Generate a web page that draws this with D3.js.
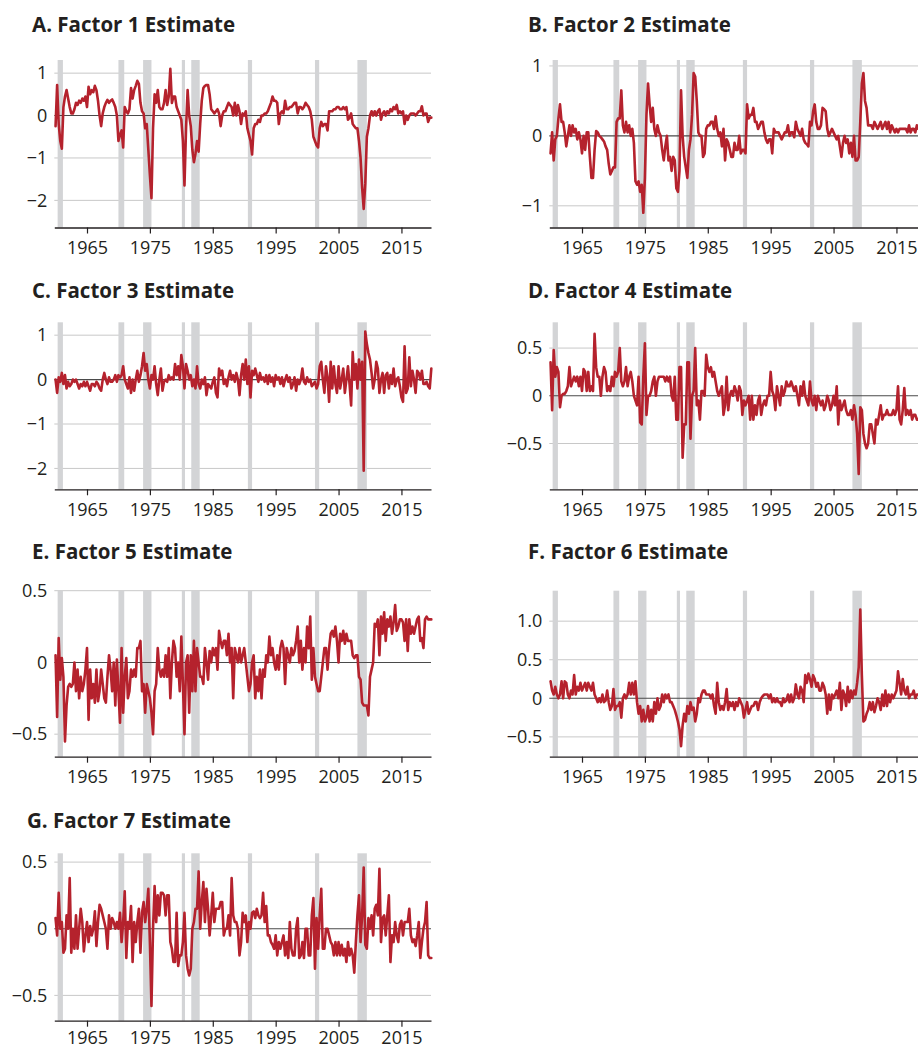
<!DOCTYPE html>
<html><head><meta charset="utf-8">
<script src="https://cdn.jsdelivr.net/npm/d3@7"></script>
<style>
html,body{margin:0;padding:0;background:#fff;overflow:hidden}
svg{display:block}
</style></head><body>
<svg id="chart" width="918" height="1049"></svg>
<script>
// ---------- DATA ----------
const titles = ["A. Factor 1 Estimate","B. Factor 2 Estimate","C. Factor 3 Estimate","D. Factor 4 Estimate","E. Factor 5 Estimate","F. Factor 6 Estimate","G. Factor 7 Estimate"];
const recessionStart = [1960.33, 1970.0, 1973.92, 1980.08, 1981.58, 1990.58, 2001.25, 2008.0];
const recessionEnd   = [1961.17, 1970.92, 1975.25, 1980.58, 1982.92, 1991.25, 2001.92, 2009.5];
const yearTicks = [1965, 1975, 1985, 1995, 2005, 2015];
const firstYear = 1960, lastYear = 2019; // quarterly observations 1960Q1-2019Q4

const factor1 = [
-0.25,0.72,-0.2,-0.6, -0.78,0.2,0.45,0.6, 0.4,0.2,0.05,0.05, 0.15,0.3,0.25,0.35, 0.3,0.4,0.35,0.45,
0.2,0.68,0.5,0.6, 0.55,0.7,0.6,0.35, 0.0,-0.25,0.05,0.2, 0.3,0.37,0.3,0.35, 0.38,0.3,0.2,0.0,
-0.6,-0.45,-0.35,-0.75, 0.2,0.1,0.05,0.15, 0.65,0.4,0.6,0.7, 0.82,0.75,0.3,0.1, 0.05,-0.3,-0.2,-0.8,
-1.4,-1.95,-0.3,0.5, 0.3,0.6,0.2,0.15, 0.15,0.3,0.6,0.25, 0.45,1.1,0.3,0.45, 0.45,0.2,0.1,0.0,
-0.1,-0.6,-1.65,-0.3, 0.6,0.0,-0.25,-0.8, -1.1,-0.9,-0.6,-0.85, -0.2,0.35,0.65,0.7, 0.72,0.72,0.5,0.15,
0.1,0.05,0.1,0.15, 0.05,-0.25,0.0,0.1, 0.1,0.2,0.3,0.25, 0.2,0.0,0.3,0.0, 0.25,0.1,-0.2,0.05,
0.0,0.1,-0.3,-0.45, -0.6,-0.92,-0.3,-0.2, -0.2,-0.1,-0.15,0.0, 0.0,0.05,0.05,0.1, 0.2,0.3,0.45,0.35,
0.35,0.3,-0.2,0.05, 0.1,0.05,0.35,0.15, 0.15,0.2,0.2,0.25, 0.3,0.3,0.05,0.2, 0.2,0.15,0.2,0.3,
0.25,0.2,0.1,-0.1, -0.5,-0.6,-0.7,-0.75, -0.3,-0.15,-0.25,-0.2, -0.2,-0.35,0.1,0.1, 0.1,0.15,0.15,0.2,
0.2,0.15,0.15,0.2, 0.15,0.2,-0.1,-0.05, 0.05,-0.2,-0.25,-0.3, -0.3,-0.6,-1.0,-1.7, -2.2,-1.6,-0.5,-0.3,
0.0,0.1,0.0,0.1, 0.0,0.1,0.15,-0.1, 0.05,0.1,0.0,0.1, 0.05,0.15,0.1,0.2, 0.15,0.25,0.05,0.1,
0.05,0.1,-0.2,0.0, -0.1,0.0,0.05,0.05, 0.05,0.0,0.05,0.1, 0.1,0.22,0.0,0.05, 0.05,-0.15,-0.05,-0.05];

const factor2 = [
-0.25,0.05,-0.35,-0.05, 0.0,0.25,0.45,0.2, 0.2,0.05,-0.15,0.0, 0.15,0.0,0.15,0.05, 0.1,-0.05,0.05,-0.05,
-0.25,0.0,-0.2,0.05, 0.05,-0.3,-0.6,-0.6, -0.2,0.07,0.05,0.0, -0.02,-0.05,-0.08,-0.15, -0.2,-0.4,-0.55,-0.5,
-0.45,-0.45,0.2,0.25, 0.25,0.65,0.15,0.05, 0.2,0.05,0.15,0.0, 0.1,-0.1,-0.65,-0.7, -0.65,-0.8,-0.7,-1.1,
-0.6,0.3,0.75,0.45, 0.2,0.4,0.1,0.0, 0.15,0.05,0.0,-0.2, -0.35,-0.15,0.0,-0.35, -0.3,-0.5,-0.3,-0.35,
-0.75,-0.8,-0.5,0.65, 0.0,-0.3,-0.45,-0.6, -0.2,-0.05,0.3,0.9, 0.85,0.5,0.05,0.0, 0.0,-0.3,-0.25,0.1,
0.15,0.15,0.2,0.2, 0.1,0.28,0.1,0.0, 0.05,-0.15,0.1,-0.35, -0.05,-0.1,-0.2,-0.3, -0.3,-0.1,-0.2,-0.2,
0.0,-0.25,-0.2,-0.2, -0.25,0.45,0.25,0.3, 0.3,0.4,0.2,0.2, 0.1,0.15,0.2,0.2, 0.05,-0.05,-0.1,-0.05,
-0.05,-0.25,0.1,0.05, 0.05,0.05,0.0,-0.05, 0.0,0.05,0.05,0.15, 0.0,0.05,0.05,-0.02, 0.2,0.1,0.05,0.0,
0.1,-0.05,-0.1,-0.12, -0.15,0.2,0.15,0.35, 0.45,0.2,0.1,0.1, 0.15,0.4,0.38,0.35, 0.1,0.0,0.05,0.1,
0.05,0.0,-0.05,0.0, -0.15,-0.3,-0.1,0.0, -0.1,-0.05,-0.25,-0.1, -0.3,0.0,-0.35,-0.35, -0.3,0.2,0.75,0.9,
0.5,0.4,0.15,0.15, 0.15,0.1,0.2,0.15, 0.1,0.15,0.2,0.1, 0.15,0.2,0.1,0.2, 0.05,0.15,0.1,0.05,
0.1,0.05,0.1,0.1, 0.1,0.1,0.1,0.05, 0.15,0.05,0.1,0.1, 0.05,0.15,0.1,0.1, 0.1,0.05,0.1,0.1];

const factor3 = [
0.0,-0.3,0.05,-0.05, 0.15,-0.1,0.1,-0.2, -0.05,-0.15,-0.1,0.0, -0.05,0.0,-0.1,-0.2, -0.1,-0.15,-0.05,-0.15,
-0.05,-0.15,-0.25,-0.1, -0.1,-0.15,-0.05,-0.1, -0.2,-0.25,0.0,0.15, 0.0,-0.1,0.05,-0.05, -0.05,0.0,0.1,-0.05,
0.1,0.05,0.1,0.3, 0.0,-0.1,-0.2,0.05, -0.3,0.0,-0.25,0.0, 0.2,-0.05,0.1,0.3, 0.6,0.2,0.35,0.0,
-0.2,0.1,0.0,0.3, -0.1,-0.35,0.0,0.25, -0.25,-0.05,0.0,-0.05, 0.1,0.0,0.05,0.0, 0.35,0.1,0.3,0.0,
0.55,0.3,-0.2,0.35, 0.2,0.0,0.1,-0.15, 0.0,-0.2,0.3,-0.1, -0.2,0.0,-0.1,0.05, -0.35,-0.1,-0.15,-0.2,
-0.05,0.05,-0.3,-0.4, 0.25,0.1,0.2,-0.1, 0.0,-0.15,0.05,0.2, 0.0,0.1,-0.05,0.15, 0.0,-0.35,0.1,0.35,
0.0,0.45,-0.1,0.3, -0.4,0.2,0.1,0.25, 0.1,-0.05,0.15,0.0, 0.05,-0.05,0.1,-0.1, 0.1,-0.05,0.05,-0.15,
0.1,0.0,0.05,-0.1, 0.05,-0.15,0.0,0.1, -0.05,0.05,-0.2,-0.1, 0.05,-0.25,0.0,-0.1, 0.0,0.25,-0.05,-0.1,
0.05,-0.05,0.0,-0.15, -0.1,-0.05,-0.2,-0.1, 0.3,0.4,0.0,-0.3, 0.3,0.05,-0.5,0.4, -0.2,0.3,-0.1,-0.3,
0.3,-0.2,0.0,0.25, -0.3,0.0,0.3,-0.1, -0.58,0.62,0.0,0.35, -0.2,0.45,0.0,0.4, -2.05,1.08,0.8,0.6,
0.45,0.15,-0.2,0.0, 0.4,0.25,-0.3,0.0, 0.15,-0.3,0.1,0.15, -0.2,0.1,-0.1,0.25, -0.15,0.0,0.05,-0.15,
-0.4,-0.5,0.75,-0.3, -0.2,0.5,-0.15,0.2, 0.0,-0.3,0.2,0.15, 0.0,0.2,-0.1,-0.1, -0.05,-0.15,-0.2,0.25];

const factor4 = [
0.35,-0.15,0.48,0.2, 0.3,0.25,-0.12,0.0, 0.02,0.02,0.05,0.1, 0.3,0.1,0.15,0.2, 0.15,0.2,0.1,0.2,
0.05,0.28,0.25,0.05, 0.25,0.05,0.1,0.05, 0.65,0.3,0.2,0.2, 0.0,0.2,0.3,0.25, 0.05,0.1,0.05,0.2,
0.1,0.25,0.2,0.25, 0.5,0.15,0.1,0.15, 0.3,0.1,0.2,0.25, 0.15,0.0,-0.05,-0.1, 0.2,-0.28,-0.3,0.2,
0.55,-0.2,0.0,0.0, 0.05,0.15,0.2,0.0, 0.15,0.2,0.2,0.2, 0.2,0.15,0.2,0.15, 0.2,0.0,-0.05,0.2,
-0.25,-0.25,0.3,0.3, -0.65,-0.3,-0.3,0.35, 0.35,-0.45,0.0,0.05, 0.5,-0.1,-0.05,-0.25, 0.05,0.05,0.0,0.43,
0.3,0.25,0.3,0.2, 0.25,0.15,0.05,0.0, 0.05,0.1,-0.2,-0.1, 0.2,-0.15,0.0,0.05, 0.0,0.1,0.05,-0.05,
0.1,0.05,-0.2,-0.05, -0.1,-0.05,0.0,-0.25, 0.0,-0.25,-0.1,-0.2, -0.05,0.0,-0.2,-0.1, -0.05,-0.1,0.0,0.0,
0.25,0.05,0.0,-0.15, 0.1,0.0,-0.1,0.1, 0.0,0.05,0.15,0.1, 0.1,0.15,0.1,0.05, 0.1,0.0,-0.1,0.1,
0.0,0.15,0.0,-0.05, -0.1,0.15,-0.05,-0.1, 0.0,-0.15,0.0,-0.05, -0.1,-0.05,-0.15,-0.1, 0.0,-0.05,-0.15,-0.1,
0.0,-0.1,0.1,-0.3, -0.05,-0.15,-0.1,-0.05, -0.15,-0.2,-0.2,-0.15, -0.25,-0.1,-0.2,-0.4, -0.82,-0.12,-0.15,-0.4,
-0.5,-0.55,-0.5,-0.3, -0.3,-0.4,-0.5,-0.25, -0.3,-0.2,-0.1,-0.25, -0.2,-0.2,-0.15,-0.2, -0.2,-0.2,-0.15,-0.2,
-0.15,0.1,-0.25,-0.3, -0.15,0.08,-0.2,-0.15, -0.2,-0.15,-0.25,-0.2, -0.2,-0.25,-0.25,-0.2, -0.2,-0.25,-0.2,-0.2];

const factor5 = [
0.05,-0.38,0.17,-0.12, 0.03,-0.1,-0.55,-0.3, -0.17,-0.15,-0.17,-0.15, 0.0,-0.2,-0.05,-0.25, -0.1,-0.2,-0.15,-0.05,
0.1,-0.4,-0.05,-0.25, -0.15,-0.28,-0.05,-0.27, -0.2,-0.05,-0.15,-0.25, -0.28,-0.1,0.05,-0.05, -0.2,0.0,-0.3,0.02,
-0.2,-0.42,0.1,-0.35, -0.1,0.03,-0.25,-0.2, -0.05,-0.1,-0.05,-0.1, 0.1,0.1,0.15,-0.2, -0.15,-0.35,-0.15,-0.2,
-0.25,-0.35,-0.5,-0.2, -0.15,0.1,-0.05,-0.1, -0.05,-0.1,0.05,-0.1, 0.1,-0.25,0.0,0.15, 0.1,-0.1,0.0,-0.2,
0.18,-0.15,-0.5,0.0, 0.05,-0.35,0.05,-0.2, 0.15,-0.2,0.1,0.0, -0.1,-0.1,-0.15,0.1, 0.0,-0.12,0.08,0.0,
0.1,0.05,0.1,-0.05, 0.22,0.15,0.1,0.15, 0.15,0.05,0.2,0.0, 0.1,-0.25,0.1,0.05, 0.0,0.1,0.0,0.05,
0.1,0.0,-0.1,-0.2, -0.15,0.0,0.05,-0.25, -0.1,-0.2,-0.05,-0.25, -0.05,-0.1,0.05,0.0, 0.18,0.05,0.1,0.0,
-0.05,0.05,-0.05,0.1, 0.15,0.1,-0.15,0.1, 0.05,0.0,0.1,0.05, 0.08,0.15,0.25,0.0, 0.15,-0.05,0.1,0.0,
0.25,0.1,0.32,-0.12, 0.1,-0.1,-0.15,-0.2, -0.2,-0.1,0.0,0.1, 0.1,-0.05,0.1,0.2, 0.22,0.18,0.25,0.15,
0.0,0.2,0.15,0.22, 0.13,0.2,0.15,0.15, 0.15,0.05,0.03,0.05, 0.05,-0.1,-0.12,-0.28, -0.3,-0.3,-0.3,-0.37,
-0.1,-0.05,0.0,0.27, 0.25,0.3,0.05,0.32, 0.2,0.35,0.15,0.3, 0.25,0.32,0.2,0.28, 0.4,0.22,0.25,0.3,
0.3,0.28,0.15,0.3, 0.08,0.3,0.2,0.25, 0.2,0.25,0.3,0.32, 0.15,0.17,0.1,0.3, 0.32,0.3,0.3,0.3];

const factor6 = [
0.22,0.1,0.05,0.15, 0.05,0.0,0.05,0.22, 0.0,0.22,0.2,0.05, 0.0,0.1,0.05,0.3, 0.05,0.15,0.1,0.2,
0.1,0.15,0.2,0.1, 0.2,0.15,0.1,0.2, 0.05,0.0,-0.05,0.0, -0.05,0.05,-0.05,-0.03, 0.1,-0.05,-0.15,-0.1,
0.12,-0.15,-0.1,-0.1, -0.05,-0.25,0.0,0.05, 0.0,0.05,0.2,0.05, 0.2,0.05,0.22,-0.05, -0.2,-0.1,-0.3,-0.15,
-0.3,-0.25,-0.1,-0.3, -0.15,-0.3,-0.05,-0.2, 0.0,-0.15,-0.1,0.05, -0.05,0.05,0.0,0.05, -0.05,-0.05,-0.1,-0.15,
-0.22,-0.3,-0.4,-0.62, -0.35,-0.2,-0.3,-0.1, -0.2,-0.05,-0.15,-0.12, -0.3,-0.2,0.0,-0.05, 0.05,0.1,0.1,0.05,
0.05,0.05,0.0,0.05, -0.1,-0.2,0.2,-0.05, -0.15,-0.1,-0.15,-0.05, 0.12,-0.15,-0.05,-0.1, -0.05,-0.15,-0.05,-0.1,
0.0,-0.05,-0.1,-0.25, -0.15,-0.05,-0.2,-0.15, -0.1,-0.1,-0.05,-0.05, -0.15,-0.05,0.0,0.03, 0.05,0.05,0.05,0.0,
0.05,-0.05,0.0,-0.05, 0.0,-0.05,-0.05,-0.1, 0.0,-0.05,-0.03,0.05, -0.05,0.05,-0.05,0.0, 0.18,0.05,0.0,0.15,
0.1,-0.05,0.3,0.2, 0.32,0.25,0.15,0.3, 0.25,0.15,0.2,0.1, 0.1,0.2,0.15,0.05, -0.2,0.05,-0.15,0.05,
0.0,0.05,0.1,0.0, 0.2,-0.15,0.1,0.05, -0.1,0.15,-0.05,0.1, 0.0,0.1,0.05,0.2, 0.4,1.15,0.3,-0.3,
-0.28,-0.2,-0.15,-0.05, -0.15,-0.05,-0.18,-0.1, 0.0,-0.05,-0.15,0.05, -0.1,0.1,-0.1,0.05, -0.05,0.05,0.0,0.05,
0.1,0.35,0.2,0.05, 0.25,0.1,0.05,0.15, 0.0,0.05,0.05,0.1, 0.0,0.05,0.05,0.05, 0.05,0.05,0.05,0.05];

const factor7 = [
0.08,-0.05,0.27,0.0, 0.05,-0.18,-0.15,0.1, 0.0,0.38,-0.18,0.0, -0.15,0.1,-0.15,0.0, 0.15,0.05,-0.17,-0.05,
0.05,-0.1,0.02,-0.05, 0.0,0.13,-0.13,0.05, 0.18,0.15,0.1,0.05, 0.0,-0.15,0.1,0.0, 0.08,0.05,0.0,0.05,
0.0,0.12,-0.1,0.05, 0.28,-0.22,0.05,0.0, 0.17,-0.25,0.05,-0.1, 0.05,0.15,-0.18,0.12, 0.2,0.05,0.15,0.3,
-0.1,-0.58,0.0,0.32, 0.05,0.25,0.1,0.27, 0.27,0.25,0.1,0.25, 0.25,-0.1,-0.15,-0.25, -0.25,0.12,-0.28,-0.2,
-0.2,-0.1,0.12,-0.2, -0.3,-0.35,-0.3,0.0, 0.05,0.15,0.15,0.43, 0.0,0.2,0.35,0.05, 0.3,0.15,-0.05,0.1,
0.27,0.05,0.15,0.15, 0.15,0.2,0.2,-0.05, 0.0,0.0,0.1,-0.05, 0.38,0.1,0.05,0.05, 0.0,-0.2,-0.1,0.12,
0.05,0.1,-0.1,0.05, 0.0,0.12,0.13,0.08, 0.15,0.1,0.08,0.1, 0.27,0.05,0.17,-0.05, -0.05,-0.1,-0.12,-0.15,
-0.05,-0.2,-0.1,-0.15, -0.1,-0.05,-0.2,-0.1, -0.22,0.05,-0.15,-0.2, -0.2,0.0,0.08,-0.22, -0.2,-0.1,-0.22,0.0,
0.0,-0.2,-0.2,0.1, 0.23,-0.3,0.08,-0.15, 0.1,0.3,-0.15,-0.15, 0.0,0.0,-0.05,-0.1, -0.12,-0.2,-0.1,-0.2,
-0.1,-0.2,-0.12,-0.2, -0.15,-0.25,-0.1,-0.2, -0.15,-0.2,-0.33,-0.1, 0.1,0.25,-0.1,0.1, 0.46,-0.12,-0.15,0.08,
0.0,0.1,-0.05,0.15, 0.18,0.1,0.45,-0.1, 0.08,0.1,-0.05,0.1, 0.25,-0.25,-0.05,-0.1, 0.05,-0.05,-0.1,0.03,
0.06,-0.05,0.05,0.05, 0.05,0.15,-0.05,-0.1, -0.08,-0.13,-0.05,0.05, -0.22,-0.1,0.0,0.05, 0.2,-0.2,-0.22,-0.22];

const yTicksA = [-2, -1, 0, 1],  yLabelsA = ["\u22122", "\u22121", "0", "1"];
const yTicksB = [-1, 0, 1],      yLabelsB = ["\u22121", "0", "1"];
const yTicksHalf = [-0.5, 0, 0.5], yLabelsHalf = ["\u22120.5", "0", "0.5"];
const yTicksF = [-0.5, 0, 0.5, 1], yLabelsF = ["\u22120.5", "0", "0.5", "1.0"];

// quarterly time index
const quarters = d3.range((lastYear - firstYear + 1) * 4).map(i => firstYear + i / 4);

// ---------- LAYOUT ----------
const plotW = 376.7;
const xDomain = [1959.8, 2019.7];
const panels = [
  {title: titles[0], series: factor1, ticks: yTicksA, labels: yLabelsA, left: 54.3,  top: 60,    bottom: 227.5,  yDomain: [-2.64, 1.31],  tx: 32,  ty: 32.3, pad: 8},
  {title: titles[1], series: factor2, ticks: yTicksB, labels: yLabelsB, left: 549.3, top: 60,    bottom: 227.5,  yDomain: [-1.31, 1.085], tx: 528, ty: 32.3, pad: 8},
  {title: titles[2], series: factor3, ticks: yTicksA, labels: yLabelsA, left: 54.3,  top: 322.3, bottom: 489.3,  yDomain: [-2.47, 1.29],  tx: 32,  ty: 297.7, pad: 8},
  {title: titles[3], series: factor4, ticks: yTicksHalf, labels: yLabelsHalf, left: 549.3, top: 322.3, bottom: 489.3, yDomain: [-0.98, 0.77], tx: 528, ty: 297.7, pad: 8},
  {title: titles[4], series: factor5, ticks: yTicksHalf, labels: yLabelsHalf, left: 54.3,  top: 590.7, bottom: 756.7, yDomain: [-0.657, 0.5], tx: 32, ty: 559, pad: 8},
  {title: titles[5], series: factor6, ticks: yTicksF, labels: yLabelsF, left: 549.3, top: 590.7, bottom: 756.7, yDomain: [-0.757, 1.395], tx: 528, ty: 559, pad: 8},
  {title: titles[6], series: factor7, ticks: yTicksHalf, labels: yLabelsHalf, left: 54.3,  top: 853.3, bottom: 1020.7, yDomain: [-0.69, 0.566], tx: 27, ty: 828.3, pad: 5}
];

const svg = d3.select('#chart');
const FONT = '"Open Sans", "Noto Sans", sans-serif';

panels.forEach(p => {
  const x = d3.scaleLinear().domain(xDomain).range([p.left, p.left + plotW]);
  const y = d3.scaleLinear().domain(p.yDomain).range([p.bottom, p.top]);
  const g = svg.append('g');

  g.selectAll('line.grid').data(p.ticks.filter(t => t !== 0)).join('line')
    .attr('class', 'grid')
    .attr('x1', p.left).attr('x2', p.left + plotW)
    .attr('y1', d => y(d)).attr('y2', d => y(d))
    .attr('stroke', '#c8c8c8').attr('stroke-width', 1);

  g.selectAll('rect.band').data(d3.zip(recessionStart, recessionEnd)).join('rect')
    .attr('class', 'band')
    .attr('x', d => x(d[0])).attr('width', d => x(d[1]) - x(d[0]))
    .attr('y', p.top).attr('height', p.bottom - p.top)
    .attr('fill', '#d3d4d6');

  g.append('line')
    .attr('x1', p.left).attr('x2', p.left + plotW)
    .attr('y1', y(0)).attr('y2', y(0))
    .attr('stroke', '#4a4a4a').attr('stroke-width', 1.1);

  g.selectAll('text.ylab').data(p.ticks).join('text')
    .attr('class', 'ylab')
    .attr('x', p.left - 7).attr('y', d => y(d)).attr('dy', '0.35em')
    .attr('text-anchor', 'end')
    .attr('font-family', FONT).attr('font-size', 18).attr('fill', '#231f20')
    .text((d, i) => p.labels[i]);

  const ax = g.append('g')
    .attr('transform', `translate(0,${p.bottom})`)
    .call(d3.axisBottom(x).tickValues(yearTicks).tickFormat(d3.format('d'))
      .tickSize(6).tickSizeOuter(0).tickPadding(p.pad));
  ax.attr('font-family', FONT).attr('font-size', 18);
  ax.select('.domain').attr('stroke', '#231f20').attr('stroke-width', 1.3);
  ax.selectAll('.tick line').attr('stroke', '#231f20').attr('stroke-width', 1.2);
  ax.selectAll('.tick text').attr('fill', '#231f20');

  const line = d3.line().x((d, i) => x(quarters[i])).y(d => y(d));
  g.append('path').datum(p.series)
    .attr('d', line)
    .attr('fill', 'none')
    .attr('stroke', '#b5222d')
    .attr('stroke-width', 2.6)
    .attr('stroke-linejoin', 'round')
    .attr('stroke-linecap', 'round');

  svg.append('text')
    .attr('x', p.tx).attr('y', p.ty)
    .attr('font-family', FONT).attr('font-weight', 700).attr('font-size', 20.5)
    .attr('fill', '#231f20')
    .text(p.title);
});
</script>
</body></html>
